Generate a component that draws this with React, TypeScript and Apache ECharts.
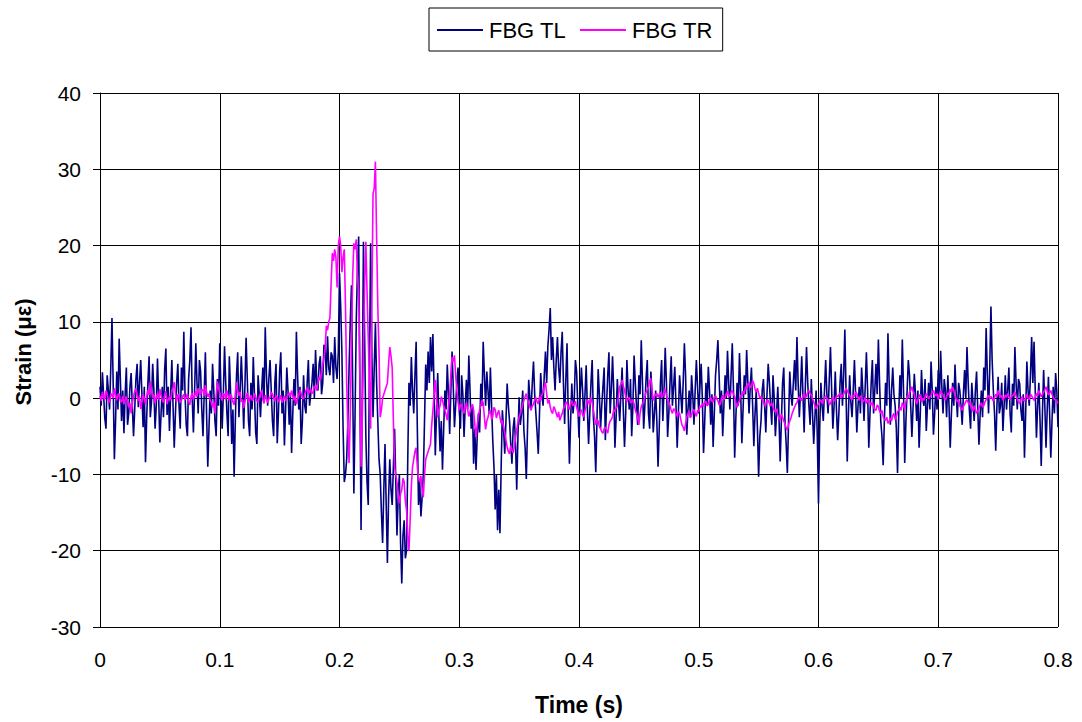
import React, { useEffect, useRef } from "react";
import * as echarts from "echarts";

// Sampling interval of both gauges (s)
const SAMPLE_STEP = 0.001;

const X_TICKS = [0, 0.1, 0.2, 0.3, 0.4, 0.5, 0.6, 0.7, 0.8];
const Y_TICKS = [-30, -20, -10, 0, 10, 20, 30, 40];

const SERIES_NAMES = ["FBG TL", "FBG TR"];

// FBG TL strain (με), one value per sample (20 samples = 0.02 s per row)
const FBG_TL = [
  1.5, -1.0, 3.4, 0.5, -2.6, -4.0, 3.0, 1.0, -1.5, 4.0, 10.5, 2.0, -8.0, -3.0, 3.5, -1.5, 7.8, 2.5, -3.0, 1.0,
  -4.6, 0.5, 4.0, -3.5, -2.0, 1.5, 3.3, -1.0, -5.0, -1.5, 2.5, 4.5, -1.2, 2.0, 5.0, 0.5, -3.8, 1.5, -8.4, -2.5,
  2.0, 5.5, -2.5, -0.5, 4.5, 1.0, -4.0, -1.0, 5.2, 0.0, -5.8, -2.0, 1.5, -2.5, 3.8, 6.5, -2.2, 1.5, -4.3, 0.5,
  5.0, -1.0, -6.5, -2.0, 2.0, 4.5, -1.0, -4.0, 4.0, 1.0, 8.7, 0.5, -3.5, -5.0, 2.5, 5.0, 9.3, 0.0, -4.5, 1.0,
  7.2, 2.0, -2.0, 5.0, 3.5, -1.5, -5.0, 0.5, 6.0, -2.0, -9.0, -4.0, 1.0, -2.0, 4.5, 1.0, -3.0, -5.0, 2.5, -1.0,
  7.2, 1.0, -4.0, 0.5, 6.8, 2.0, -2.0, -5.0, 5.5, 1.0, -6.0, -1.5, -10.3, -3.0, 3.0, 6.0, -2.5, 1.0, 5.5, 1.5,
  -4.0, 1.5, 7.9, 2.5, -3.0, -5.0, 2.0, -1.5, 5.4, 0.5, -4.5, -6.0, 3.0, 0.5, -2.5, 1.0, 4.0, -0.5, 9.3, 3.0,
  -1.0, 2.5, 5.0, 1.0, -3.0, -5.0, 2.0, 4.5, -5.9, -2.0, 3.5, 6.0, -2.0, 1.0, -6.2, -1.5, 4.0, 1.0, -3.5, 0.5,
  -7.2, -2.0, 2.5, -1.0, 8.7, 3.0, -1.5, 1.5, -6.0, -3.0, 3.0, -1.0, -2.0, 2.0, 5.0, -1.0, 0.5, 2.0, 4.5, 0.0,
  6.3, 2.0, 1.0, 4.5, 5.5, 0.5, 2.0, 7.0, 6.5, 3.0, 8.1, 4.0, 3.0, 6.0, 5.5, 2.0, 8.0, 4.0, 2.5, 6.0,
  16.4, 12.0, 6.0, -4.0, -11.0, -10.0, -8.0, -3.0, 4.0, 10.0, 14.8, 2.0, -12.5, -2.0, 10.0, 17.0, 21.2, 2.0, -17.3, 0.0,
  20.5, 8.0, -5.0, -11.0, -14.0, 4.0, 20.3, 6.0, -2.5, 4.0, 9.8, 2.0, -3.0, -8.0, -10.0, -15.0, -19.0, -12.0, -6.0, -14.0,
  -21.6, -13.0, -8.0, -12.0, -14.0, -9.0, -4.0, -11.0, -18.0, -13.0, -10.0, -19.0, -24.3, -18.0, -16.0, -21.0, -20.0, -8.0, 2.0, -1.0,
  5.4, 1.0, -2.0, 3.0, 7.4, -4.0, -14.0, -11.0, -15.5, -13.0, -10.0, -3.0, 4.4, 1.0, 6.1, 2.0, 8.0, 3.5, 8.4, 1.0,
  -7.5, -2.0, 3.3, -2.5, -7.0, -3.0, -9.4, -4.0, 1.0, -1.5, 4.4, 0.5, -4.7, 1.0, 6.1, 1.5, -3.8, -1.0, 2.0, 4.0,
  -1.6, -4.0, 3.0, 0.5, -5.1, -1.0, 2.4, -1.5, 5.6, 1.0, -4.0, -1.0, -8.6, -4.0, -9.4, -5.0, -2.0, -4.5, 1.9, -1.0,
  7.4, 3.0, -1.0, 3.5, 1.0, -2.0, 4.0, -1.0, -5.6, -9.0, -14.6, -10.0, -17.3, -12.0, -17.7, -9.0, -1.6, -4.0, -7.3, -3.0,
  1.9, -1.0, -3.0, -6.0, -8.6, -4.0, -2.5, -6.0, -12.0, -5.0, 0.1, -3.5, -2.0, 1.0, -4.3, -6.5, -10.6, -4.0, 2.4, 0.0,
  -1.5, 2.0, 4.8, 0.5, -2.0, -4.5, -7.3, -2.0, 3.3, 0.5, -1.0, 3.0, 6.1, 2.0, 6.8, 9.0, 11.8, 5.0, 8.0, 4.0,
  1.0, 5.0, 8.0, 4.0, 2.0, 6.0, 8.7, 2.0, -3.4, 2.5, 7.2, -2.0, -8.6, -3.0, 1.9, -2.0, -0.3, 5.0, 3.5, -1.0,
  -5.2, 0.5, 4.0, 1.0, -3.0, 0.5, 4.3, -1.5, -6.0, -2.0, 2.0, 5.0, -2.5, -5.0, -9.7, -3.0, 3.8, 0.5, -4.0, -1.0,
  1.5, 4.0, -5.5, -1.0, 3.0, 6.0, -2.0, 1.0, 5.5, 1.0, -6.5, -2.5, 2.5, -0.5, -3.0, 0.5, 4.0, -1.5, -6.4, -2.0,
  5.0, 1.0, -1.5, 2.5, -5.0, -1.0, 5.6, 2.0, -1.0, -3.5, 3.0, 0.5, 7.6, 2.0, -4.0, -1.0, 2.5, 5.0, -2.0, -4.0,
  3.5, 0.5, -4.5, -2.0, 1.0, -3.0, -9.0, -4.0, 2.0, 5.0, -3.0, 1.0, 6.6, 2.0, -5.1, -2.0, 2.0, 5.5, -1.0, 1.5,
  4.1, -1.0, -6.5, -2.0, 3.0, 0.5, -2.0, 2.0, 7.2, 3.0, -4.8, -1.5, 1.0, -2.5, 3.0, 0.5, -3.5, 1.0, 5.0, 1.5,
  -2.0, 1.5, 4.5, 0.0, -7.2, -3.0, 2.0, -1.0, 4.1, 1.0, -3.5, 0.5, -6.4, -2.0, 3.0, 5.0, 7.6, 3.0, -2.0, 1.0,
  -5.0, -1.0, 3.0, 0.0, 6.2, 2.0, -1.5, 3.0, 7.2, 1.0, -7.8, -2.5, 2.0, -1.0, 5.9, 1.0, -5.9, -1.5, 3.0, 0.5,
  6.3, 2.0, -2.0, 1.5, 4.0, -1.0, -6.3, -2.0, 1.0, -4.0, -10.3, -5.0, -3.0, 1.0, 2.5, -1.0, -4.5, 0.5, 4.5, 2.0,
  -1.0, -3.5, 3.0, 0.0, -5.0, -2.0, 1.5, -2.5, -8.3, -3.0, 2.0, 4.0, -3.0, -6.0, -9.8, -3.0, 3.5, 0.5, -1.0, 2.0,
  5.0, 1.0, 8.0, 2.0, -2.5, 1.0, 5.5, 0.5, -4.5, 1.5, 6.7, 2.0, -1.0, -3.5, 2.5, -2.0, -6.0, -2.5, 1.0, -5.0,
  -13.8, -4.0, 2.0, -1.0, -3.0, 1.0, 5.0, 0.5, -2.0, 2.5, 6.7, 1.0, -4.0, -1.0, 3.5, -1.5, -5.5, -2.0, 2.0, 4.5,
  -1.0, 3.0, 9.0, 1.0, -8.3, -2.0, 3.0, -0.5, -2.5, 1.0, 5.0, 0.5, -4.5, -1.0, 1.5, -2.0, 4.0, 1.0, -3.0, 1.5,
  6.0, 1.0, -6.5, -2.0, 2.0, 5.0, -2.0, 1.0, 4.5, 0.5, 7.7, 2.0, -3.0, -5.0, -8.8, -3.0, 2.0, -1.0, 8.5, 2.0,
  -3.5, 1.0, 4.0, 0.5, -1.0, -4.0, -9.8, -2.0, 3.0, 0.0, 7.7, 1.0, -8.5, -3.0, 1.0, 5.0, 3.0, -1.0, -5.1, -1.0,
  3.2, 0.5, -3.0, 1.0, -6.5, -2.0, 3.7, 0.0, -1.0, 2.5, -4.3, -1.0, 2.0, -1.5, 4.8, 1.0, -4.8, -2.0, 1.5, -1.5,
  3.7, 0.0, 6.2, 1.5, -2.0, 2.5, 1.0, -2.5, 3.0, -1.0, -6.5, -2.0, 2.0, -1.0, 4.4, 0.5, -2.5, 2.0, 1.0, -1.0,
  -3.5, 0.5, 3.7, 0.0, 6.7, 2.0, -1.6, -4.0, 2.0, -0.5, -3.0, 1.0, 3.5, -1.5, -6.1, -2.0, 1.0, -2.5, 4.0, 1.0,
  9.2, 3.0, -2.0, 4.0, 12.0, 5.0, 1.0, -2.0, -6.9, -1.0, 2.8, -2.0, -1.0, 2.0, -4.3, -1.0, 3.0, -1.5, 1.0, 4.0,
  -2.0, -4.5, 1.9, -1.0, 6.7, 2.0, -1.5, 2.5, 1.9, -1.5, -3.0, 0.5, -7.8, -2.0, 4.8, 1.0, -1.0, 3.0, 8.0, 2.0,
  7.4, 1.0, -5.2, -1.0, 2.0, -3.0, -8.9, -2.0, 3.7, -1.0, -6.5, -1.5, 2.8, -2.0, -7.8, -3.0, 1.5, -2.0, 3.3, 1.0,
  -3.8,
];

// FBG TR strain (με), one value per sample (20 samples = 0.02 s per row)
const FBG_TR = [
  0.3, -0.4, 0.8, 0.1, -0.2, 1.0, 0.5, -0.3, -0.6, 0.6, 0.4, 0.0, 1.3, 0.4, -0.3, 0.5, 0.6, -0.4, -0.5, 0.3,
  -0.8, -0.1, 0.2, -0.5, -1.2, -0.6, -2.0, -0.8, 0.3, 0.9, 1.3, 0.2, -0.4, 0.3, -1.4, -0.5, 0.5, 0.0, -0.8, 0.2,
  1.0, 0.4, 2.2, 0.9, 0.0, 0.5, -0.7, 0.1, 0.6, -0.2, 1.2, 0.3, -0.2, -0.6, 0.4, 0.9, -0.8, -0.2, 0.2, -0.3,
  0.8, 1.4, 2.1, 0.6, -0.5, 0.5, 0.3, -0.6, -0.3, 0.2, 0.5, -0.2, 0.1, 0.6, -0.4, -0.9, 0.2, 0.7, -0.2, 0.3,
  0.9, 0.2, 1.3, 0.7, 0.4, 1.2, 1.0, 0.3, 1.7, 0.8, 0.2, 0.6, -0.3, -0.6, -1.2, -0.5, -2.0, 0.3, 2.2, 1.2,
  0.8, 0.1, -0.3, 0.6, 0.5, -0.2, 1.0, 0.3, -0.4, 0.5, 0.2, -0.5, -0.9, 0.6, 2.1, 1.0, 0.3, 0.8, -0.5, -0.2,
  -1.3, -0.4, 0.2, 0.7, -0.6, -0.1, 0.4, -0.3, -0.2, 0.6, 0.2, -0.4, -0.5, 0.1, 0.6, 1.0, -0.2, -0.7, 0.4, 0.0,
  -0.6, -0.1, 0.1, 0.8, 0.5, 0.0, -0.4, 0.3, 0.2, -0.5, -0.2, 0.4, -0.6, -0.2, 0.3, -0.4, 0.0, 0.4, 0.7, 0.2,
  1.0, 0.4, -0.3, 0.3, -0.8, -0.2, 0.4, 1.1, 0.6, 0.0, -0.1, 0.5, 1.0, 1.4, 0.5, 0.9, 1.2, 0.6, 0.8, 1.6,
  1.4, 1.0, 2.0, 2.8, 2.4, 3.5, 4.5, 5.2, 6.5, 9.5, 8.9, 10.0, 10.5, 15.0, 19.0, 18.0, 19.5, 18.5, 14.5, 20.0,
  21.2, 20.0, 16.5, 18.5, 19.5, 12.0, 2.0, -4.0, -8.5, -2.0, 7.0, 16.0, 20.3, 19.5, 20.8, 16.0, 14.0, 3.0, -9.0, -3.0,
  6.0, 15.0, 20.5, 14.0, 8.0, 2.0, -4.0, 12.0, 26.8, 27.5, 31.0, 21.0, 12.0, 6.0, -2.5, -1.5, 0.0, 0.5, 1.0, 1.5,
  2.0, 4.5, 6.7, 5.5, 4.0, -3.0, -9.0, -10.0, -11.0, -12.5, -13.8, -12.5, -12.0, -10.5, -11.0, -13.5, -14.7, -18.0, -20.0, -16.0,
  -11.5, -9.0, -8.0, -7.0, -6.5, -9.0, -10.5, -11.0, -10.2, -12.0, -13.0, -10.0, -8.0, -7.5, -7.0, -6.5, -6.0, -3.5, -1.6, 0.5,
  2.4, 0.0, -2.5, -1.5, -1.0, 0.2, -0.3, -1.0, -1.5, -2.2, -2.9, -1.0, 0.6, 3.0, 5.4, 4.8, 5.6, 3.0, 1.0, -0.5,
  -1.6, -0.9, -0.8, -1.6, -2.0, -1.2, -0.6, -1.5, -2.4, -1.8, -1.2, -0.8, -1.6, -3.5, -5.1, -3.6, -2.4, -1.5, -1.0, -0.2,
  -0.6, -2.5, -4.1, -3.0, -2.5, -1.8, -1.6, -2.8, -2.4, -1.2, -1.5, -2.6, -2.0, -1.6, -2.5, -3.3, -2.9, -3.8, -4.5, -5.5,
  -6.4, -7.0, -7.3, -6.2, -6.8, -7.2, -6.4, -5.2, -4.1, -3.2, -2.5, -2.0, -1.6, -0.8, -0.3, 0.2, 0.6, -0.2, -0.5, -1.2,
  -1.6, -1.0, -0.8, -0.2, 0.1, -0.5, -0.8, 0.2, -0.3, 0.4, 0.8, 1.5, 2.1, 0.6, -0.7, -0.2, -1.2, -1.8, -2.0, -1.1,
  -1.5, -2.0, -2.5, -1.8, -2.9, -2.4, -2.0, -1.4, -1.2, -0.5, -0.7, -1.1, -1.5, -0.7, -0.3, -1.0, -0.8, -0.4, -1.2, -1.8,
  -2.4, -1.8, -1.5, -2.2, -2.5, -1.6, -1.0, -0.2, -0.5, -0.9, 0.1, -0.6, -1.5, -2.6, -3.5, -2.8, -3.0, -3.7, -4.0, -4.4,
  -4.6, -4.0, -3.8, -4.2, -4.6, -3.5, -3.0, -2.8, -2.4, -1.5, -1.8, -1.2, -1.1, 0.3, 1.5, 1.8, 2.4, 1.6, 1.0, 0.2,
  -0.5, -0.1, 0.1, -0.6, -0.5, -0.2, -0.8, -1.5, -2.0, -2.6, -3.5, -2.0, -1.1, -0.7, -0.5, 0.2, 0.8, 1.1, 1.5, 2.2,
  2.6, 1.0, -0.3, 0.2, 0.5, 0.6, 0.1, 0.5, 0.8, 0.1, 0.2, 0.9, 1.2, 0.4, -0.3, -0.5, -1.0, -1.6, -2.0, -1.4,
  -1.5, -2.0, -2.4, -1.8, -2.0, -2.8, -3.5, -3.8, -4.3, -3.4, -2.5, -2.0, -1.7, -2.6, -2.2, -1.7, -1.5, -2.0, -2.4, -1.6,
  -1.8, -1.0, -1.2, -0.7, -1.1, -0.5, -0.4, -1.0, -0.8, -0.2, 0.1, -0.4, -0.5, 0.2, 0.3, -0.1, -0.3, -0.9, -0.8, -0.1,
  0.4, -0.2, 0.1, 0.5, 0.9, 0.2, 0.3, 0.8, 1.0, 0.5, 0.2, -0.6, -1.2, -0.7, -0.3, 0.4, 0.2, 0.9, 0.6, 1.5,
  1.2, 1.8, 2.1, 1.4, 1.5, 2.3, 1.9, 1.2, 0.8, 1.3, 0.6, 0.0, 0.2, -0.2, -0.4, -1.0, -0.9, -0.2, -0.3, -0.7,
  -1.0, -0.6, -1.2, -1.6, -1.8, -1.4, -2.2, -2.6, -2.9, -2.1, -2.5, -3.0, -3.4, -3.9, -4.2, -3.5, -3.0, -2.6, -2.0, -1.6,
  -1.2, -0.8, -0.6, -0.1, 0.2, -0.2, -0.3, 0.3, 0.6, 0.0, 0.3, 0.8, 1.0, 0.6, 0.4, -0.1, -0.5, -1.0, -1.4, -1.0,
  -0.8, -0.4, -0.2, -0.7, -0.5, 0.1, 0.3, 0.0, -0.2, -0.9, -0.7, -0.2, 0.1, -0.3, -0.4, 0.3, 0.2, 0.4, 0.7, 0.0,
  0.3, 0.5, 0.9, 1.3, 1.0, 0.6, 0.4, 0.0, -0.2, 0.4, 0.2, 0.8, 0.6, 0.1, -0.3, 0.3, 0.1, -0.5, -0.3, 0.1,
  -0.7, -0.3, -0.2, -0.6, -0.9, -0.5, -1.2, -1.5, -1.6, -0.9, -1.1, -1.7, -2.0, -1.6, -2.4, -2.8, -2.9, -2.5, -3.3, -3.0,
  -2.6, -3.0, -2.3, -2.0, -2.8, -2.4, -1.8, -1.5, -1.2, -1.6, -0.6, -1.0, -1.5, -0.5, 0.3, 0.0, 0.8, 1.0, 1.5, 0.9,
  0.5, -0.2, -0.8, -0.2, 0.2, 0.5, -0.5, 0.0, -0.3, 0.2, 0.6, 0.3, -0.1, 0.2, 0.4, 0.8, 1.0, 0.5, 0.3, 0.6,
  -0.2, 0.4, 1.0, 0.6, 0.4, 0.0, -0.3, 0.2, 0.7, 0.4, 1.2, 0.8, 1.5, 1.0, 0.3, -0.1, -0.5, -0.2, -1.0, -1.3,
  -1.6, -1.1, -0.8, -0.4, -0.2, -0.6, -0.9, -0.5, -1.4, -1.7, -1.0, -1.5, -2.0, -1.7, -1.3, -0.9, -0.6, -1.2, -1.0, -0.5,
  -0.2, 0.1, 0.4, -0.1, 0.2, 0.0, -0.4, 0.1, 0.5, 0.2, 1.0, 0.5, 0.1, 0.4, -0.3, 0.0, 0.4, 0.1, 0.6, 0.2,
  -0.2, 0.1, 0.3, 0.5, 0.8, 0.3, -0.1, -0.5, -0.7, -0.2, 0.2, -0.3, -0.4, 0.1, 0.5, 0.0, -0.2, 0.5, 0.3, 0.0,
  -0.3, 0.2, 0.6, 0.3, 1.0, 0.6, 0.2, 0.5, 0.8, 1.1, 1.5, 0.9, 0.4, 0.7, 1.0, 0.5, 0.1, -0.1, -0.3, -0.4,
  -0.7,
];

const FONT = "'Liberation Sans', Arial, Helvetica, sans-serif";

const toPairs = (vals: number[]) =>
  vals.map((v, i) => [Math.round(i * SAMPLE_STEP * 10000) / 10000, v]);

export default function App() {
  const ref = useRef<HTMLDivElement>(null);

  useEffect(() => {
    if (!ref.current) return;
    const chart = echarts.init(ref.current, undefined, { renderer: "svg" });
    const option: any = {
      animation: false,
      backgroundColor: "#ffffff",
      textStyle: { fontFamily: FONT },
      legend: {
        data: SERIES_NAMES,
        left: 429,
        top: 8,
        orient: "horizontal",
        icon: "rect",
        padding: [11, 10, 10, 8],
        itemWidth: 46,
        itemHeight: 2,
        itemGap: 14,
        borderColor: "#000",
        borderWidth: 1,
        backgroundColor: "#fff",
        textStyle: { fontSize: 22, color: "#000", fontFamily: FONT, padding: [0, 0, 0, 1] },
      },
      grid: { left: 100, right: 24, top: 93, bottom: 95, containLabel: false },
      xAxis: {
        type: "value",
        min: X_TICKS[0],
        max: X_TICKS[X_TICKS.length - 1],
        interval: 0.1,
        axisLine: { show: true, lineStyle: { color: "#000", width: 1 } },
        axisTick: { show: false },
        splitLine: { show: true, lineStyle: { color: "#000", width: 1 } },
        axisLabel: {
          color: "#000",
          fontSize: 21,
          fontFamily: FONT,
          margin: 22,
          formatter: (v: number) => String(Math.round(v * 10) / 10),
        },
      },
      yAxis: {
        type: "value",
        min: Y_TICKS[0],
        max: Y_TICKS[Y_TICKS.length - 1],
        interval: 10,
        axisLine: { show: true, onZero: false, lineStyle: { color: "#000", width: 1 } },
        axisTick: { show: true, inside: false, length: 7, lineStyle: { color: "#000", width: 1 } },
        splitLine: { show: true, lineStyle: { color: "#000", width: 1 } },
        axisLabel: { color: "#000", fontSize: 21, fontFamily: FONT, margin: 19 },
      },
      graphic: [
        {
          type: "text",
          x: 579,
          y: 705,
          style: {
            text: "Time (s)",
            fill: "#000",
            font: `bold 23px ${FONT}`,
            textAlign: "center",
            textVerticalAlign: "middle",
          },
        },
        {
          type: "text",
          x: 23,
          y: 352,
          rotation: Math.PI / 2,
          style: {
            text: "Strain (με)",
            fill: "#000",
            font: `bold 22px ${FONT}`,
            textAlign: "center",
            textVerticalAlign: "middle",
          },
        },
      ],
      series: [
        {
          name: SERIES_NAMES[0],
          type: "line",
          data: toPairs(FBG_TL),
          symbol: "none",
          lineStyle: { color: "#000080", width: 1.6 },
          itemStyle: { color: "#000080" },
          z: 2,
        },
        {
          name: SERIES_NAMES[1],
          type: "line",
          data: toPairs(FBG_TR),
          symbol: "none",
          lineStyle: { color: "#ff00ff", width: 1.6 },
          itemStyle: { color: "#ff00ff" },
          z: 3,
        },
      ],
    };
    chart.setOption(option);
    return () => chart.dispose();
  }, []);

  return (
    <div
      ref={ref}
      style={{ position: "fixed", left: 0, top: 0, width: 1082, height: 722, background: "#fff" }}
    />
  );
}
